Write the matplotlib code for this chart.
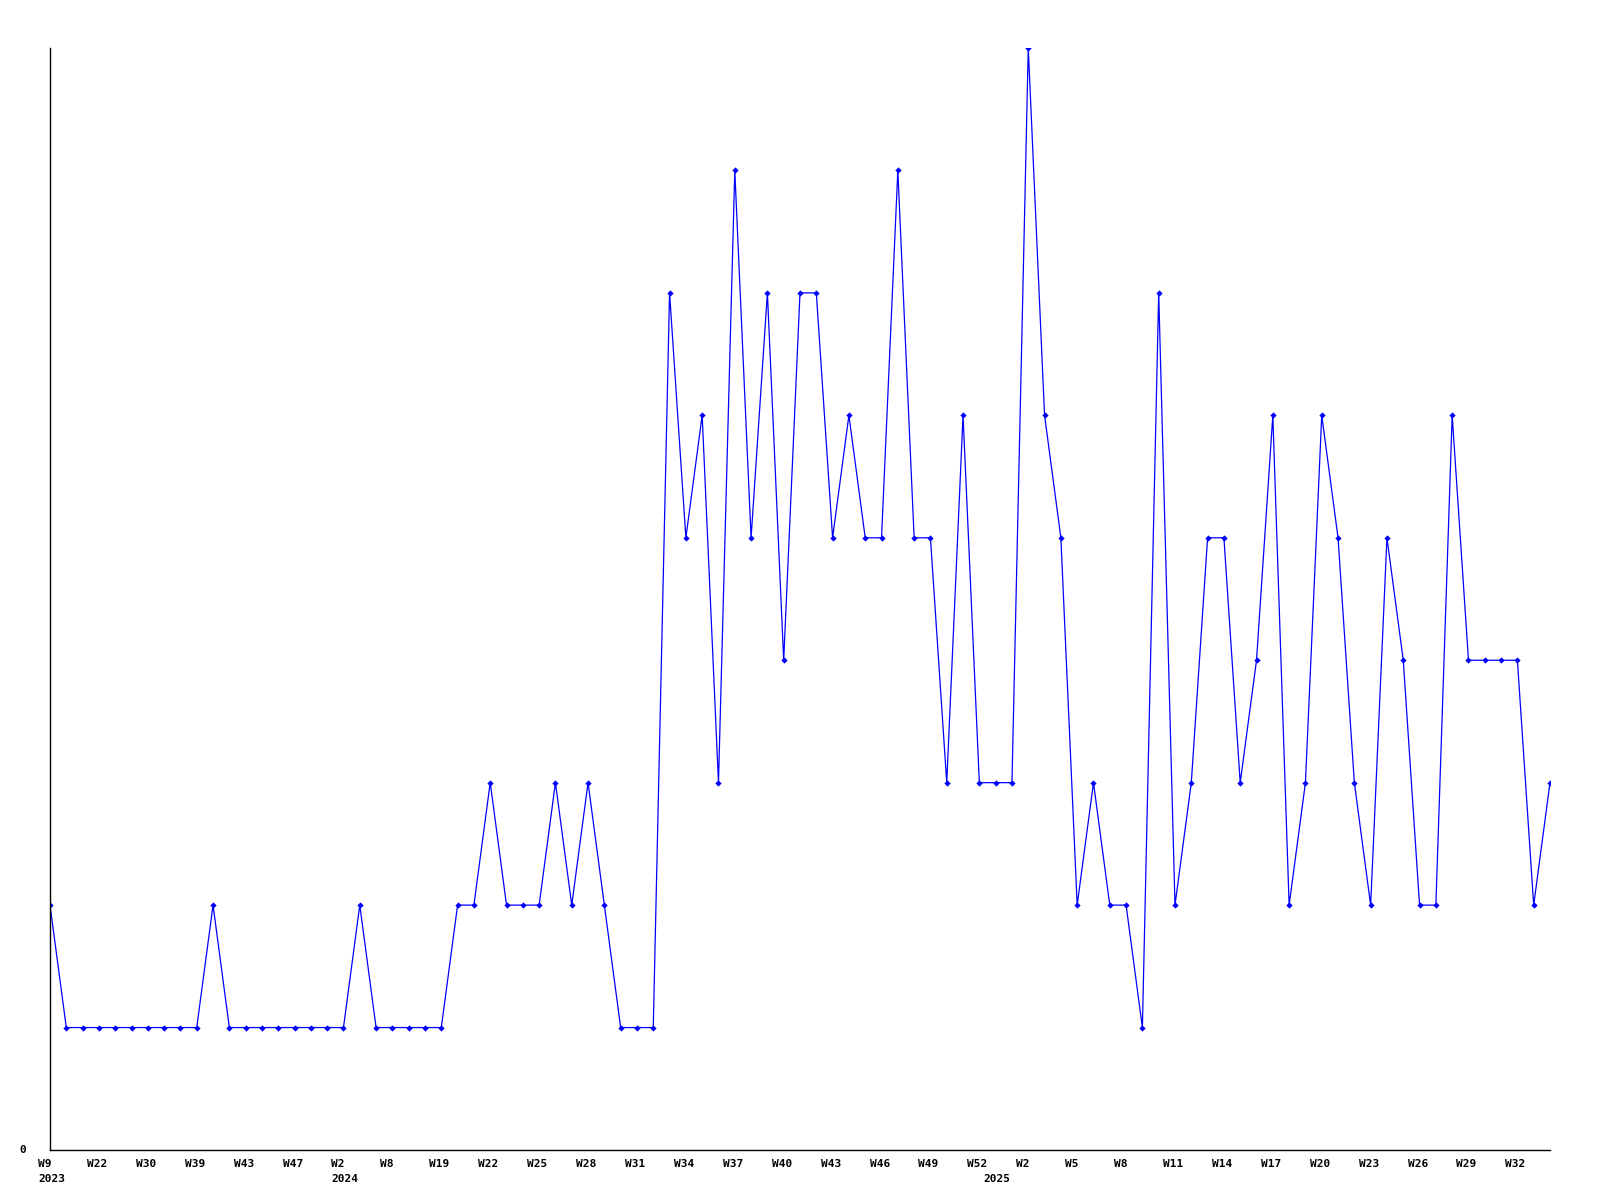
import matplotlib
matplotlib.use("Agg")
import matplotlib.pyplot as plt
import matplotlib.transforms as mtransforms

# Weekly counts (93 consecutive data points)
values = [2, 1, 1, 1, 1, 1, 1, 1, 1, 1,
          2, 1, 1, 1, 1, 1, 1, 1, 1, 2,
          1, 1, 1, 1, 1, 2, 2, 3, 2, 2,
          2, 3, 2, 3, 2, 1, 1, 1, 7, 5,
          6, 3, 8, 5, 7, 4, 7, 7, 5, 6,
          5, 5, 8, 5, 5, 3, 6, 3, 3, 3,
          9, 6, 5, 2, 3, 2, 2, 1, 7, 2,
          3, 5, 5, 3, 4, 6, 2, 3, 6, 5,
          3, 2, 5, 4, 2, 2, 6, 4, 4, 4,
          4, 2, 3]

# Labelled positions (every 3rd point) and their week labels
tick_idx = list(range(0, 91, 3))
tick_labels = ["W9", "W22", "W30", "W39", "W43", "W47", "W2", "W8", "W19", "W22",
               "W25", "W28", "W31", "W34", "W37", "W40", "W43", "W46", "W49", "W52",
               "W2", "W5", "W8", "W11", "W14", "W17", "W20", "W23", "W26", "W29", "W32"]
year_idx = [0, 18, 58]
year_labels = ["2023", "2024", "2025"]

fig = plt.figure(figsize=(16, 12), dpi=100)
ax = fig.add_axes([50 / 1600, 50 / 1200, 1500 / 1600, 1102 / 1200])

x = list(range(len(values)))
ax.plot(x, values, color="#0000ff", linewidth=0.9, marker="D", markersize=3.2,
        markeredgewidth=0, clip_on=True)

ax.set_xlim(0, len(values) - 1)
ax.set_ylim(0, 9)

for s in ["top", "right"]:
    ax.spines[s].set_visible(False)
for s in ["left", "bottom"]:
    ax.spines[s].set_linewidth(1.0)
    ax.spines[s].set_color("black")

ax.set_xticks([])
ax.set_yticks([])

font = dict(family="DejaVu Sans Mono", fontweight="bold", fontsize=8, color="black")
off = mtransforms.ScaledTranslation(-12 / 100, 0, fig.dpi_scale_trans)
trans = mtransforms.blended_transform_factory(ax.transData, ax.transAxes) + off

for i, lab in zip(tick_idx, tick_labels):
    ax.text(i, -14 / 1102, lab, transform=trans, ha="left", va="center", **font)
for i, lab in zip(year_idx, year_labels):
    ax.text(i, -29 / 1102, lab, transform=trans, ha="left", va="center", **font)

ax.text(-31 / 1500, 0, "0", transform=ax.transAxes, ha="left", va="center", **font)

fig.savefig("out.png", dpi=100, facecolor="white")
